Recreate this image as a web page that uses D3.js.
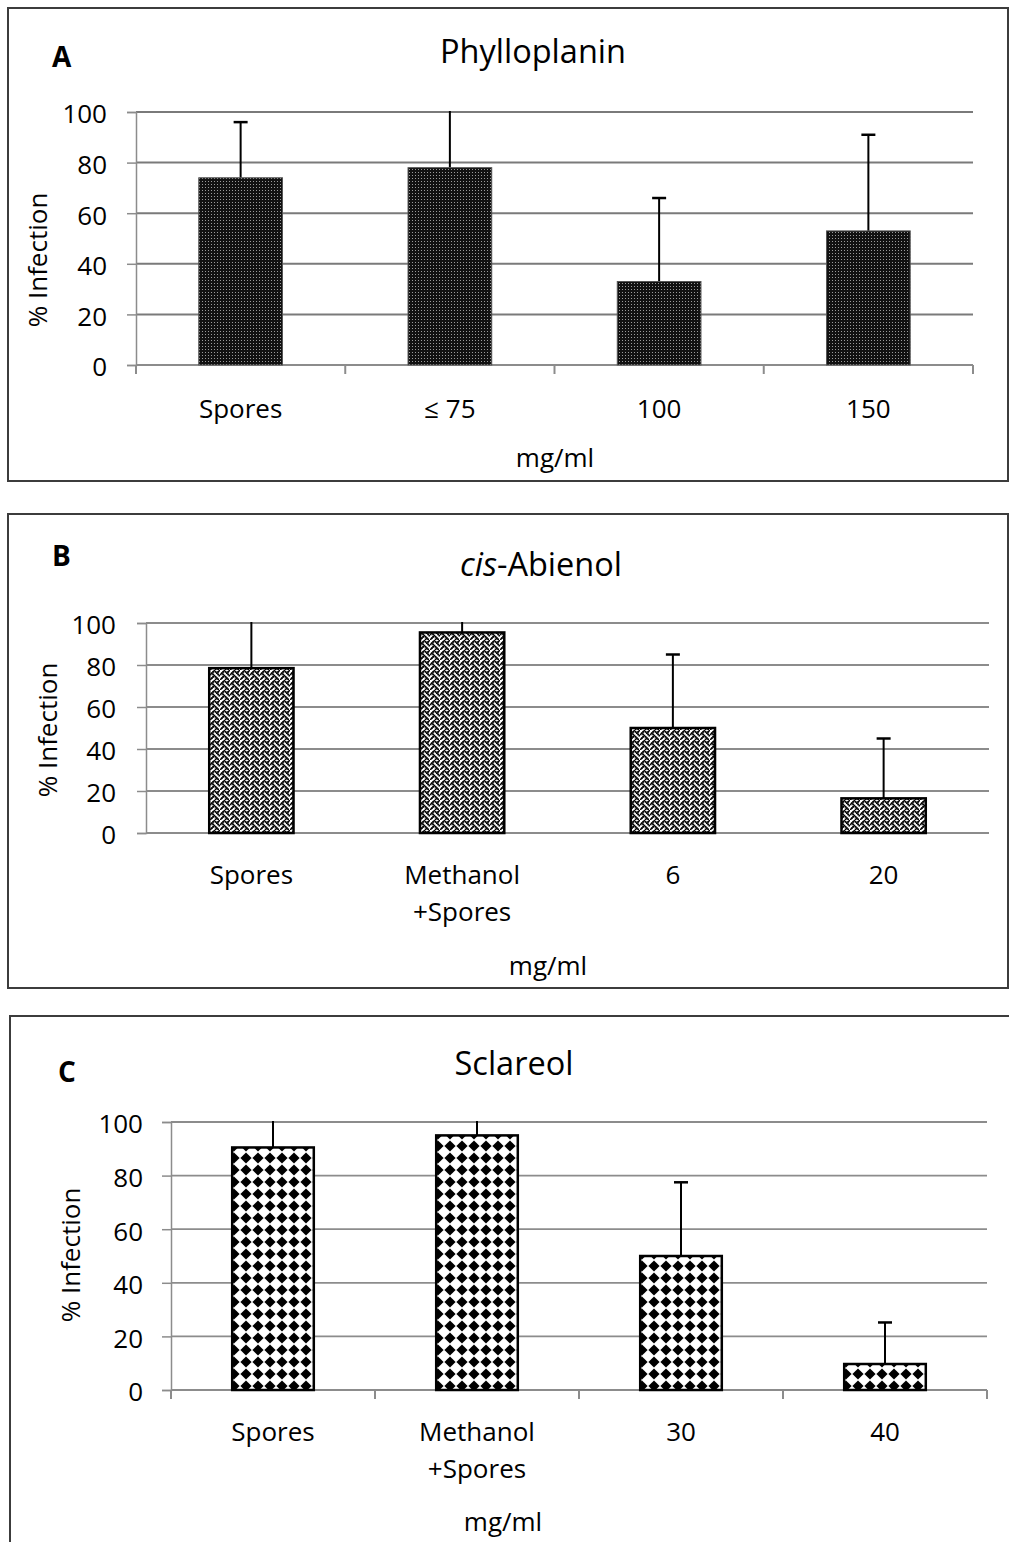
<!DOCTYPE html>
<html>
<head>
<meta charset="utf-8">
<script src="https://cdn.jsdelivr.net/npm/d3@7"></script>
<style>
  body { margin: 0; background: #fff; }
  svg { display: block; font-family: "Open Sans", Lato, sans-serif; }
</style>
</head>
<body>
<svg id="chart" width="1009" height="1542"></svg>
<script>
// data
var yTicks = [0, 20, 40, 60, 80, 100];

var catsA = [["Spores"], ["≤ 75"], ["100"], ["150"]];
var meanA = [74, 78, 33, 53];
var errA  = [22, 25, 33, 38];

var catsB = [["Spores"], ["Methanol", "+Spores"], ["6"], ["20"]];
var meanB = [78.5, 95.5, 50, 16.5];
var errB  = [25, 10, 35, 28.5];

var catsC = [["Spores"], ["Methanol", "+Spores"], ["30"], ["40"]];
var meanC = [90.5, 95, 50, 9.7];
var errC  = [12, 10, 27.5, 15.5];

var svg = d3.select("#chart");
var defs = svg.append("defs");

// pattern A: near black with tiny light dots
var pA = defs.append("pattern").attr("id", "patA")
  .attr("patternUnits", "userSpaceOnUse").attr("width", 3).attr("height", 3);
pA.append("rect").attr("width", 3).attr("height", 3).attr("fill", "#111");
pA.append("rect").attr("x", 1).attr("y", 1).attr("width", 1).attr("height", 1).attr("fill", "#9a9a9a");

// pattern B: weave (8x8 bitmap, drawn a bit larger)
var weave = [0x11, 0x2a, 0x44, 0xa2, 0x11, 0x28, 0x44, 0x8a];
var pB = defs.append("pattern").attr("id", "patB")
  .attr("patternUnits", "userSpaceOnUse").attr("width", 8).attr("height", 8)
  .attr("patternTransform", "scale(1.25)");
pB.append("rect").attr("width", 8).attr("height", 8).attr("fill", "#fff");
weave.forEach(function(row, r) {
  for (var c = 0; c < 8; c++) {
    if (row & (128 >> c)) {
      pB.append("rect").attr("x", c - 0.25).attr("y", r - 0.25)
        .attr("width", 1.5).attr("height", 1.5).attr("fill", "#000");
    }
  }
});

// pattern C: black diamonds
var pC = defs.append("pattern").attr("id", "patC")
  .attr("patternUnits", "userSpaceOnUse").attr("width", 12).attr("height", 12);
pC.append("rect").attr("width", 12).attr("height", 12).attr("fill", "#fff");
pC.append("path").attr("d", "M6,0.4L11.6,6L6,11.6L0.4,6Z").attr("fill", "#000");

var panels = [
  { id: "A", cats: catsA, mean: meanA, err: errA, fill: "url(#patA)", barStroke: "#555", barStrokeW: 1,
    box: [8, 8, 1000, 473], plot: {left: 136, right: 973, top: 112, bottom: 365},
    letter: [52, 67], title: "Phylloplanin", titlePos: [533, 63], tickRight: 107,
    catY: 418, xTitleY: 467, xTitleX: 555, yLabel: [37, 260], xTicks: true, gridW: 2, gridC: "#7a7a7a" },
  { id: "B", cats: catsB, mean: meanB, err: errB, fill: "url(#patB)", barStroke: "#000", barStrokeW: 2.5,
    box: [8, 514, 1000, 474], plot: {left: 146, right: 989, top: 623, bottom: 833},
    letter: [52, 566], title: "cis", titleRest: "-Abienol", titlePos: [541, 576], tickRight: 116,
    catY: 884, xTitleY: 975, xTitleX: 548, yLabel: [47, 730], xTicks: false, gridW: 1.8, gridC: "#8c8c8c" },
  { id: "C", cats: catsC, mean: meanC, err: errC, fill: "url(#patC)", barStroke: "#000", barStrokeW: 2.5,
    box: [10, 1016, 1000, 560], plot: {left: 171, right: 987, top: 1122, bottom: 1390},
    letter: [58, 1082], title: "Sclareol", titlePos: [514, 1075], tickRight: 143,
    catY: 1441, xTitleY: 1531, xTitleX: 503, yLabel: [70, 1255], xTicks: true, gridW: 1.8, gridC: "#8c8c8c" }
];

var fs = 26;

panels.forEach(function(p) {
  var g = svg.append("g").attr("class", "panel");

  // outer frame
  g.append("rect")
    .attr("x", p.box[0]).attr("y", p.box[1])
    .attr("width", p.box[2]).attr("height", p.box[3])
    .attr("fill", "none").attr("stroke", "#3c3c3c").attr("stroke-width", 2);

  var x = d3.scaleBand()
    .domain(d3.range(p.cats.length))
    .range([p.plot.left, p.plot.right])
    .paddingInner(0.6).paddingOuter(0.3);

  var y = d3.scaleLinear().domain([0, 100]).range([p.plot.bottom, p.plot.top]);

  // gridlines
  g.append("g").selectAll("line").data(yTicks.slice(1)).enter().append("line")
    .attr("x1", p.plot.left).attr("x2", p.plot.right)
    .attr("y1", function(d) { return y(d); }).attr("y2", function(d) { return y(d); })
    .attr("stroke", p.gridC).attr("stroke-width", p.gridW);

  // y axis
  var yAxis = g.append("g")
    .attr("transform", "translate(" + p.plot.left + ",0)")
    .call(d3.axisLeft(y).tickValues(yTicks).tickSize(9).tickFormat(d3.format("d")));
  yAxis.select(".domain").attr("stroke", "#8c8c8c").attr("stroke-width", 1.5);
  yAxis.selectAll(".tick line").attr("stroke", "#8c8c8c").attr("stroke-width", 1.5);
  yAxis.selectAll(".tick text")
    .attr("x", p.tickRight - p.plot.left)
    .attr("dy", "0.42em")
    .attr("font-size", fs).attr("font-family", "'Open Sans', sans-serif").attr("fill", "#000")
    .attr("text-anchor", "end");

  // x axis line
  g.append("line")
    .attr("x1", p.plot.left).attr("x2", p.plot.right)
    .attr("y1", p.plot.bottom).attr("y2", p.plot.bottom)
    .attr("stroke", "#8c8c8c").attr("stroke-width", 2);

  if (p.xTicks) {
    g.append("g").selectAll("line").data(d3.range(p.cats.length + 1)).enter().append("line")
      .attr("x1", function(i) { return p.plot.left + i * x.step(); })
      .attr("x2", function(i) { return p.plot.left + i * x.step(); })
      .attr("y1", p.plot.bottom).attr("y2", p.plot.bottom + 9)
      .attr("stroke", "#8c8c8c").attr("stroke-width", 2);
  }

  // clip so error bars stop at 100
  var clipId = "clip" + p.id;
  defs.append("clipPath").attr("id", clipId).append("rect")
    .attr("x", p.plot.left).attr("y", y(100) - 1)
    .attr("width", p.plot.right - p.plot.left).attr("height", p.plot.bottom - y(100) + 10);

  var idx = d3.range(p.cats.length);

  // error bars (upper only)
  var eg = g.append("g").attr("clip-path", "url(#" + clipId + ")");
  eg.selectAll(".err").data(idx).enter().append("line")
    .attr("x1", function(i) { return x(i) + x.bandwidth() / 2; })
    .attr("x2", function(i) { return x(i) + x.bandwidth() / 2; })
    .attr("y1", function(i) { return y(p.mean[i]); })
    .attr("y2", function(i) { return y(p.mean[i] + p.err[i]); })
    .attr("stroke", "#000").attr("stroke-width", 2);
  eg.selectAll(".cap").data(idx).enter().append("line")
    .attr("x1", function(i) { return x(i) + x.bandwidth() / 2 - 7; })
    .attr("x2", function(i) { return x(i) + x.bandwidth() / 2 + 7; })
    .attr("y1", function(i) { return y(p.mean[i] + p.err[i]); })
    .attr("y2", function(i) { return y(p.mean[i] + p.err[i]); })
    .attr("stroke", "#000").attr("stroke-width", 2.5);

  // bars
  g.append("g").selectAll("rect").data(idx).enter().append("rect")
    .attr("x", function(i) { return x(i); })
    .attr("width", x.bandwidth())
    .attr("y", function(i) { return y(p.mean[i]); })
    .attr("height", function(i) { return y(0) - y(p.mean[i]); })
    .attr("fill", p.fill)
    .attr("stroke", p.barStroke).attr("stroke-width", p.barStrokeW);

  // category labels
  var cl = g.append("g").selectAll("text").data(idx).enter().append("text")
    .attr("x", function(i) { return x(i) + x.bandwidth() / 2; })
    .attr("y", p.catY)
    .attr("text-anchor", "middle").attr("font-size", fs);
  cl.each(function(i) {
    var t = d3.select(this);
    p.cats[i].forEach(function(line, k) {
      t.append("tspan").attr("x", x(i) + x.bandwidth() / 2).attr("dy", k === 0 ? 0 : 37).text(line);
    });
  });

  // axis titles
  g.append("text").attr("x", p.xTitleX).attr("y", p.xTitleY)
    .attr("text-anchor", "middle").attr("font-size", fs).text("mg/ml");

  g.append("text")
    .attr("transform", "translate(" + p.yLabel[0] + "," + p.yLabel[1] + ") rotate(-90)")
    .attr("text-anchor", "middle").attr("dominant-baseline", "central")
    .attr("font-size", fs).text("% Infection");

  // panel letter
  g.append("text").attr("x", p.letter[0]).attr("y", p.letter[1])
    .attr("font-size", 28).attr("font-weight", "bold").text(p.id);

  // title
  var tt = g.append("text").attr("x", p.titlePos[0]).attr("y", p.titlePos[1])
    .attr("text-anchor", "middle").attr("font-size", 32.5);
  if (p.titleRest) {
    tt.append("tspan").attr("font-style", "italic").text(p.title);
    tt.append("tspan").text(p.titleRest);
  } else {
    tt.text(p.title);
  }
});
</script>
</body>
</html>
